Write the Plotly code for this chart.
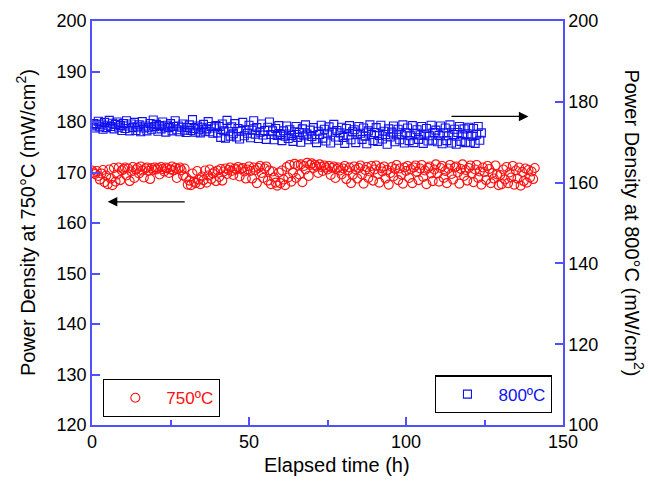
import plotly.graph_objects as go

# ---- data ----
red_time_h = [0, 0.5, 1, 1.5, 2, 2.5, 3, 3.5, 4, 4.5, 5, 5.5, 6, 6.5, 7, 7.5, 8, 8.5, 9, 9.5,
              10, 10.5, 11, 11.5, 12, 12.5, 13, 13.5, 14, 14.5, 15, 15.5, 16, 16.5, 17, 17.5, 18, 18.5, 19, 19.5,
              20, 20.5, 21, 21.5, 22, 22.5, 23, 23.5, 24, 24.5, 25, 25.5, 26, 26.5, 27, 27.5, 28, 28.5, 29, 29.5,
              30, 30.5, 31, 31.5, 32, 32.5, 33, 33.5, 34, 34.5, 35, 35.5, 36, 36.5, 37, 37.5, 38, 38.5, 39, 39.5,
              40, 40.5, 41, 41.5, 42, 42.5, 43, 43.5, 44, 44.5, 45, 45.5, 46, 46.5, 47, 47.5, 48, 48.5, 49, 49.5,
              50, 50.5, 51, 51.5, 52, 52.5, 53, 53.5, 54, 54.5, 55, 55.5, 56, 56.5, 57, 57.5, 58, 58.5, 59, 59.5,
              60, 60.5, 61, 61.5, 62, 62.5, 63, 63.5, 64, 64.5, 65, 65.5, 66, 66.5, 67, 67.5, 68, 68.5, 69, 69.5,
              70, 70.5, 71, 71.5, 72, 72.5, 73, 73.5, 74, 74.5, 75, 75.5, 76, 76.5, 77, 77.5, 78, 78.5, 79, 79.5,
              80, 80.5, 81, 81.5, 82, 82.5, 83, 83.5, 84, 84.5, 85, 85.5, 86, 86.5, 87, 87.5, 88, 88.5, 89, 89.5,
              90, 90.5, 91, 91.5, 92, 92.5, 93, 93.5, 94, 94.5, 95, 95.5, 96, 96.5, 97, 97.5, 98, 98.5, 99, 99.5,
              100, 100.5, 101, 101.5, 102, 102.5, 103, 103.5, 104, 104.5, 105, 105.5, 106, 106.5, 107, 107.5, 108, 108.5, 109, 109.5,
              110, 110.5, 111, 111.5, 112, 112.5, 113, 113.5, 114, 114.5, 115, 115.5, 116, 116.5, 117, 117.5, 118, 118.5, 119, 119.5,
              120, 120.5, 121, 121.5, 122, 122.5, 123, 123.5, 124, 124.5, 125, 125.5, 126, 126.5, 127, 127.5, 128, 128.5, 129, 129.5,
              130, 130.5, 131, 131.5, 132, 132.5, 133, 133.5, 134, 134.5, 135, 135.5, 136, 136.5, 137, 137.5, 138, 138.5, 139, 139.5,
              140, 140.5, 141]

red_pd_750 = [170.4, 170.0, 169.7, 170.3, 169.3, 168.6, 169.8, 170.5, 168.1, 169.4, 167.7, 170.6, 168.8, 167.5, 170.9, 168.2, 169.6, 171.0, 168.5, 170.4,
              170.7, 171.0, 169.4, 170.8, 168.3, 170.2, 171.1, 168.9, 170.6, 170.9, 169.8, 171.2, 170.4, 169.0, 170.8, 171.0, 170.3, 168.7, 170.9, 170.5,
              171.0, 170.6, 170.9, 169.6, 171.1, 170.7, 170.2, 171.0, 170.8, 169.9, 170.6, 171.2, 170.4, 170.9, 168.9, 170.7, 171.0, 170.5, 169.4, 170.8,
              169.0, 167.6, 168.4, 167.5, 169.8, 168.2, 167.9, 170.3, 168.6, 167.7, 169.2, 168.5, 170.4, 168.0, 169.4, 170.6, 168.7, 169.8, 170.1, 168.3,
              170.4, 169.1, 170.7, 168.4, 170.2, 170.8, 169.7, 170.5, 171.0, 170.3, 169.5, 170.8, 170.6, 171.1, 169.2, 170.7, 170.9, 170.2, 168.8, 170.6,
              171.2, 170.3, 168.8, 171.0, 170.5, 167.9, 170.9, 171.3, 169.9, 168.9, 170.8, 171.2, 168.4, 170.4, 167.7, 170.2, 169.0, 168.0, 167.4, 170.0,
              167.9, 170.4, 168.6, 167.5, 171.1, 169.0, 171.5, 168.2, 170.0, 171.7, 168.9, 171.4, 169.6, 171.6, 168.1, 171.3, 170.6, 171.9, 169.3, 171.5,
              171.8, 170.9, 171.5, 171.2, 169.9, 171.6, 171.1, 170.3, 171.4, 171.0, 170.6, 171.3, 169.5, 170.9, 171.2, 168.9, 170.7, 171.0, 170.4, 169.6,
              170.8, 171.3, 168.7, 170.4, 171.0, 167.9, 169.5, 171.2, 170.6, 168.8, 170.9, 171.4, 169.6, 167.8, 170.5, 171.1, 168.9, 170.2, 171.3, 168.4,
              170.6, 171.4, 169.7, 168.0, 170.9, 170.2, 171.2, 168.8, 170.5, 167.6, 169.9, 171.1, 169.2, 170.7, 171.5, 168.5, 170.8, 169.6, 167.8, 171.0,
              170.3, 171.3, 168.9, 170.7, 167.9, 171.0, 171.4, 170.1, 168.5, 170.8, 171.5, 169.1, 170.4, 167.7, 170.9, 171.2, 169.8, 168.3, 170.6, 171.6,
              169.8, 168.2, 170.9, 171.3, 168.9, 170.3, 167.9, 170.8, 171.5, 169.7, 168.6, 171.0, 171.2, 170.0, 167.8, 170.7, 171.6, 169.3, 170.5, 168.4,
              170.9, 171.4, 169.8, 168.1, 170.6, 171.5, 168.9, 170.2, 167.6, 171.0, 170.1, 168.5, 171.3, 170.7, 167.9, 169.9, 168.8, 171.4, 169.6, 167.5,
              169.5, 167.7, 170.6, 168.6, 171.1, 167.9, 170.0, 169.0, 171.3, 167.6, 170.4, 168.8, 171.0, 167.4, 170.1, 168.3, 170.8, 168.0, 170.5, 169.0,
              170.2, 168.7, 170.9]

blue_time_h = [0, 0.5, 1, 1.5, 2, 2.5, 3, 3.5, 4, 4.5, 5, 5.5, 6, 6.5, 7, 7.5, 8, 8.5, 9, 9.5,
               10, 10.5, 11, 11.5, 12, 12.5, 13, 13.5, 14, 14.5, 15, 15.5, 16, 16.5, 17, 17.5, 18, 18.5, 19, 19.5,
               20, 20.5, 21, 21.5, 22, 22.5, 23, 23.5, 24, 24.5, 25, 25.5, 26, 26.5, 27, 27.5, 28, 28.5, 29, 29.5,
               30, 30.5, 31, 31.5, 32, 32.5, 33, 33.5, 34, 34.5, 35, 35.5, 36, 36.5, 37, 37.5, 38, 38.5, 39, 39.5,
               40, 40.5, 41, 41.5, 42, 42.5, 43, 43.5, 44, 44.5, 45, 45.5, 46, 46.5, 47, 47.5, 48, 48.5, 49, 49.5,
               50, 50.5, 51, 51.5, 52, 52.5, 53, 53.5, 54, 54.5, 55, 55.5, 56, 56.5, 57, 57.5, 58, 58.5, 59, 59.5,
               60, 60.5, 61, 61.5, 62, 62.5, 63, 63.5, 64, 64.5, 65, 65.5, 66, 66.5, 67, 67.5, 68, 68.5, 69, 69.5,
               70, 70.5, 71, 71.5, 72, 72.5, 73, 73.5, 74, 74.5, 75, 75.5, 76, 76.5, 77, 77.5, 78, 78.5, 79, 79.5,
               80, 80.5, 81, 81.5, 82, 82.5, 83, 83.5, 84, 84.5, 85, 85.5, 86, 86.5, 87, 87.5, 88, 88.5, 89, 89.5,
               90, 90.5, 91, 91.5, 92, 92.5, 93, 93.5, 94, 94.5, 95, 95.5, 96, 96.5, 97, 97.5, 98, 98.5, 99, 99.5,
               100, 100.5, 101, 101.5, 102, 102.5, 103, 103.5, 104, 104.5, 105, 105.5, 106, 106.5, 107, 107.5, 108, 108.5, 109, 109.5,
               110, 110.5, 111, 111.5, 112, 112.5, 113, 113.5, 114, 114.5, 115, 115.5, 116, 116.5, 117, 117.5, 118, 118.5, 119, 119.5,
               120, 120.5, 121, 121.5, 122, 122.5, 123, 123.5, 124]

blue_pd_800 = [174.0, 174.6, 173.5, 174.3, 175.2, 173.8, 174.5, 173.2, 174.9, 173.6, 174.2, 175.4, 173.9, 174.7, 173.3, 174.4, 175.0, 173.7, 174.1, 172.9,
               174.6, 173.4, 175.3, 174.0, 172.8, 174.5, 173.6, 174.9, 172.9, 173.8, 174.3, 172.6, 175.1, 173.5, 174.0, 172.8, 173.7, 174.6, 173.2, 175.5,
               173.9, 174.4, 172.7, 174.1, 173.3, 175.0, 173.8, 172.5, 174.2, 173.6, 174.6, 172.8, 173.9, 175.3, 173.1, 174.0, 172.6, 173.7, 174.5, 173.0,
               172.4, 173.6, 174.3, 172.9, 175.6, 173.4, 172.5, 174.0, 173.1, 172.3, 173.7, 174.4, 172.7, 173.3, 175.1, 172.6, 173.9, 172.2, 173.5, 174.1,
               172.3, 173.9, 171.2, 174.5, 172.8, 171.0, 175.4, 172.6, 171.5, 173.8, 172.1, 174.6, 171.3, 173.4, 170.8, 172.7, 174.9, 171.6, 173.1, 172.2,
               174.2, 171.1, 173.0, 175.3, 172.0, 173.6, 170.9, 172.5, 174.5, 171.8, 172.9, 170.7, 173.7, 175.0, 171.9, 172.8, 170.6, 173.4, 171.7, 174.1,
               171.9, 170.4, 172.8, 171.5, 174.0, 170.9, 173.1, 171.7, 170.2, 172.6, 173.9, 171.2, 172.4, 170.0, 173.3, 171.6, 174.3, 172.0, 170.6, 173.0,
               171.4, 173.6, 170.8, 169.9, 172.7, 171.9, 174.2, 171.0, 173.2, 170.3, 172.1, 173.8, 169.8, 172.5, 174.4, 171.3, 172.9, 170.5, 172.3, 173.7,
               171.2, 169.7, 173.4, 171.8, 174.1, 170.6, 172.6, 173.1, 169.9, 171.9, 173.9, 172.2, 170.7, 173.5, 171.5, 169.6, 172.8, 174.3, 171.9, 170.4,
               172.4, 173.6, 170.2, 171.7, 174.2, 170.8, 172.7, 171.9, 169.5, 173.3, 171.3, 172.5, 174.0, 170.1, 171.8, 173.2, 170.6, 171.9, 174.3, 169.8,
               172.3, 173.5, 170.4, 171.6, 174.1, 169.9, 172.2, 173.1, 170.7, 171.8, 173.9, 169.7, 172.0, 173.4, 170.3, 171.6, 174.2, 170.5, 172.4, 173.0,
               170.1, 171.7, 174.0, 169.6, 172.3, 173.5, 170.4, 171.6, 174.3, 169.8, 171.9, 173.2, 169.5, 172.4, 173.9, 170.2, 171.8, 173.3, 169.9, 172.1,
               173.7, 170.0, 171.5, 173.4, 169.7, 172.0, 173.9, 170.5, 172.3]

x_ticks = [0, 50, 100, 150]
left_ticks = [120, 130, 140, 150, 160, 170, 180, 190, 200]
right_ticks = [100, 120, 140, 160, 180, 200]

AXIS_BLUE = "#5050ff"
FONT = "Liberation Sans, Arial, sans-serif"

fig = go.Figure()
fig.add_trace(go.Scatter(
    x=red_time_h, y=red_pd_750, mode="markers", name="750ºC",
    marker=dict(symbol="circle-open", size=9, color="#ff1010", line=dict(width=1.1)),
    legend="legend", yaxis="y"))
fig.add_trace(go.Scatter(
    x=blue_time_h, y=blue_pd_800, mode="markers", name="800ºC",
    marker=dict(symbol="square-open", size=8, color="#1010f0", line=dict(width=1.1)),
    legend="legend2", yaxis="y2"))

fig.update_layout(
    width=649, height=485,
    margin=dict(l=92, r=86, t=21, b=60),
    paper_bgcolor="white", plot_bgcolor="white",
    font=dict(family=FONT, size=18, color="black"),
    xaxis=dict(range=[0, 150], tickvals=x_ticks, ticks="inside", ticklen=8, tickwidth=1.5,
               tickcolor=AXIS_BLUE, showline=True, linecolor=AXIS_BLUE, linewidth=1.5,
               mirror=True, showgrid=False, zeroline=False,
               minor=dict(dtick=25, ticks="inside", ticklen=5, tickwidth=1.5, tickcolor=AXIS_BLUE, showgrid=False)),
    yaxis=dict(range=[120, 200], tickvals=left_ticks, ticks="inside", ticklen=8, tickwidth=1.5,
               tickcolor=AXIS_BLUE, showline=True, linecolor=AXIS_BLUE, linewidth=1.5,
               showgrid=False, zeroline=False),
    yaxis2=dict(range=[100, 200], tickvals=right_ticks, ticks="inside", ticklen=8, tickwidth=1.5,
                tickcolor=AXIS_BLUE, showline=True, linecolor=AXIS_BLUE, linewidth=1.5,
                overlaying="y", side="right", showgrid=False, zeroline=False),
    legend=dict(x=0.0234, y=0.114, xanchor="left", yanchor="top", bgcolor="white",
                bordercolor="black", borderwidth=1.3, itemwidth=52,
                font=dict(family=FONT, size=17, color="#ff1010")),
    legend2=dict(x=0.977, y=0.123, xanchor="right", yanchor="top", bgcolor="white",
                 bordercolor="black", borderwidth=1.3, itemwidth=52,
                 font=dict(family=FONT, size=17, color="#1010f0")),
    showlegend=True,
)

fig.add_annotation(text="Power Density at 750°C (mW/cm<sup>2</sup>)", textangle=-90,
                   xref="paper", yref="paper", x=-0.142, y=0.5, showarrow=False,
                   font=dict(size=20), xanchor="center", yanchor="middle")
fig.add_annotation(text="Power Density at 800°C (mW/cm<sup>2</sup>)", textangle=90,
                   xref="paper", yref="paper", x=1.152, y=0.5, showarrow=False,
                   font=dict(size=20), xanchor="center", yanchor="middle")
fig.add_annotation(text="Elapsed time (h)", xref="paper", yref="paper", x=0.52, y=-0.1,
                   showarrow=False, font=dict(size=20), xanchor="center", yanchor="middle")

# direction arrows
fig.add_annotation(x=5, y=164.2, ax=30, ay=164.2, xref="x", yref="y", axref="x", ayref="y",
                   showarrow=True, arrowhead=2, arrowsize=1.6, arrowwidth=1.2, arrowcolor="black", text="")
fig.add_annotation(x=139, y=181.1, ax=114, ay=181.1, xref="x", yref="y", axref="x", ayref="y",
                   showarrow=True, arrowhead=2, arrowsize=1.6, arrowwidth=1.2, arrowcolor="black", text="")

fig.write_html("out.html")
